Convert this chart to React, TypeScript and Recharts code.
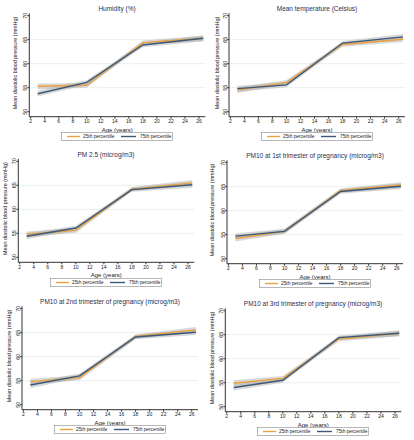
import React from 'react'
import {ComposedChart, Line, Area, XAxis, YAxis, CartesianGrid} from 'recharts'

const ages = [3, 10, 18, 26.6]
const xTicks = [2, 4, 6, 8, 10, 12, 14, 16, 18, 20, 22, 24, 26]
const yTicks = [50, 55, 60, 65, 70]
const bandHalf = [0.6, 0.5, 0.45, 0.6]

const humidity25 = [55.3, 55.5, 64.4, 65.3]
const humidity75 = [53.75, 56.1, 63.9, 65.3]
const temp25 = [54.5, 56.1, 64.0, 65.1]
const temp75 = [54.8, 55.6, 64.3, 65.6]
const pm25p25 = [54.8, 55.6, 64.2, 65.5]
const pm25p75 = [54.4, 56.1, 64.1, 65.1]
const pm10t1p25 = [54.2, 55.7, 64.2, 65.35]
const pm10t1p75 = [54.7, 55.7, 64.0, 65.1]
const pm10t2p25 = [54.8, 55.6, 64.2, 65.6]
const pm10t2p75 = [54.1, 56.0, 64.1, 65.1]
const pm10t3p25 = [54.9, 55.9, 64.1, 65.3]
const pm10t3p75 = [54.0, 55.5, 64.4, 65.3]

const ORANGE = '#e9a23f'
const BLUE = '#3b5878'
const FONT = '"Liberation Sans", Arial, sans-serif'
const PANEL_W = 207
const PANEL_H = 147
const PLOT_W = 176
const PLOT_H = 103.4

type PanelProps = {
  title: string
  p25: number[]
  p75: number[]
  left: number
  top: number
  axisX: number
  plotTop: number
  labelX: number
}

function Panel({title, p25, p75, left, top, axisX, plotTop, labelX}: PanelProps) {
  const data = ages.map((age, i) => ({
    age,
    p25: p25[i],
    p75: p75[i],
    band25: [p25[i] - bandHalf[i], p25[i] + bandHalf[i]],
    band75: [p75[i] - bandHalf[i], p75[i] + bandHalf[i]],
  }))
  const xAxisH = 14
  const bottom = PANEL_H - plotTop - PLOT_H - xAxisH
  const right = PANEL_W - axisX - PLOT_W
  const centerX = axisX + PLOT_W / 2
  const plotBottom = plotTop + PLOT_H

  // stata-style vertical tick labels
  const yTick = (props: any) => {
    const {x, y, payload} = props
    return (
      <text
        transform={`translate(${x + 0.8},${y}) rotate(-90)`}
        textAnchor="middle"
        fontSize={5.5}
        fill="#222"
        fontFamily={FONT}
      >
        {payload.value}
      </text>
    )
  }

  return (
    <div style={{position: 'absolute', left, top, width: PANEL_W, height: PANEL_H}}>
      <svg
        width={200}
        height={10}
        style={{position: 'absolute', left: centerX - 100, top: plotTop - 9}}
      >
        <text
          x={100}
          y={7}
          textAnchor="middle"
          fontSize={6.5}
          fill="#1f2f52"
          fontFamily={FONT}
        >
          {title}
        </text>
      </svg>
      <ComposedChart
        width={PANEL_W}
        height={PANEL_H}
        data={data}
        margin={{top: plotTop, right, bottom, left: 0}}
      >
        <CartesianGrid
          vertical={false}
          horizontalValues={[55, 60, 65]}
          stroke="#e3ebe6"
          strokeWidth={0.8}
        />
        <XAxis
          dataKey="age"
          type="number"
          domain={[1.8, 26.9]}
          ticks={xTicks}
          allowDataOverflow
          height={xAxisH}
          tickSize={2}
          tickMargin={1}
          interval={0}
          stroke="#333"
          tick={{fontSize: 5, fill: '#222', fontFamily: FONT}}
          label={{
            value: 'Age (years)',
            position: 'insideBottom',
            offset: -1,
            fontSize: 6,
            fill: '#222',
            fontFamily: FONT,
          }}
        />
        <YAxis
          type="number"
          domain={[48.96, 70.5]}
          ticks={yTicks}
          allowDataOverflow
          width={axisX}
          tickSize={2}
          tickMargin={1}
          interval={0}
          stroke="#333"
          tick={yTick}
          label={{
            content: () => (
              <text
                transform={`translate(${labelX},${plotTop + PLOT_H / 2 - 2}) rotate(-90)`}
                textAnchor="middle"
                dominantBaseline="central"
                fontSize={5.4}
                fill="#222"
                fontFamily={FONT}
              >
                Mean diastolic blood pressure (mmHg)
              </text>
            ),
          }}
        />
        <Area
          dataKey="band25"
          type="linear"
          stroke="none"
          fill="#a8a8a8"
          fillOpacity={0.45}
          isAnimationActive={false}
        />
        <Area
          dataKey="band75"
          type="linear"
          stroke="none"
          fill="#a8a8a8"
          fillOpacity={0.45}
          isAnimationActive={false}
        />
        <Line
          dataKey="p25"
          type="linear"
          stroke={ORANGE}
          strokeWidth={1.4}
          dot={false}
          isAnimationActive={false}
        />
        <Line
          dataKey="p75"
          type="linear"
          stroke={BLUE}
          strokeWidth={1.4}
          dot={false}
          isAnimationActive={false}
        />
      </ComposedChart>
      <svg
        width={112}
        height={9}
        style={{position: 'absolute', left: centerX - 56, top: plotBottom + 15.5}}
      >
        <rect x={0.5} y={0.5} width={111} height={8} fill="#fff" stroke="#888" strokeWidth={0.6} />
        <line x1={6} x2={19} y1={4.5} y2={4.5} stroke={ORANGE} strokeWidth={1.4} />
        <text x={22} y={6.2} fontSize={4.8} fill="#222" fontFamily={FONT}>
          25th percentile
        </text>
        <line x1={60} x2={75} y1={4.5} y2={4.5} stroke={BLUE} strokeWidth={1.4} />
        <text x={79} y={6.2} fontSize={4.8} fill="#222" fontFamily={FONT}>
          75th percentile
        </text>
      </svg>
    </div>
  )
}

export default function App() {
  return (
    <div
      style={{
        position: 'absolute',
        left: 0,
        top: 0,
        width: 414,
        height: 440,
        background: '#fff',
      }}
    >
      <Panel title="Humidity (%)" p25={humidity25} p75={humidity75} left={0} top={0} axisX={29.3} plotTop={13.3} labelX={14.7} />
      <Panel title="Mean temperature (Celsius)" p25={temp25} p75={temp75} left={207} top={0} axisX={22} plotTop={13.3} labelX={10} />
      <Panel title="PM 2.5 (microg/m3)" p25={pm25p25} p75={pm25p75} left={0} top={147} axisX={18.3} plotTop={11.9} labelX={4.7} />
      <Panel title="PM10 at 1st trimester of pregnancy (microg/m3)" p25={pm10t1p25} p75={pm10t1p75} left={207} top={147} axisX={20} plotTop={13.3} labelX={4.7} />
      <Panel title="PM10 at 2nd trimester of pregnancy (microg/m3)" p25={pm10t2p25} p75={pm10t2p75} left={0} top={293} axisX={22} plotTop={13.3} labelX={9.3} />
      <Panel title="PM10 at 3rd trimester of pregnancy (microg/m3)" p25={pm10t3p25} p75={pm10t3p75} left={207} top={293} axisX={18.3} plotTop={15.3} labelX={4.7} />
    </div>
  )
}
